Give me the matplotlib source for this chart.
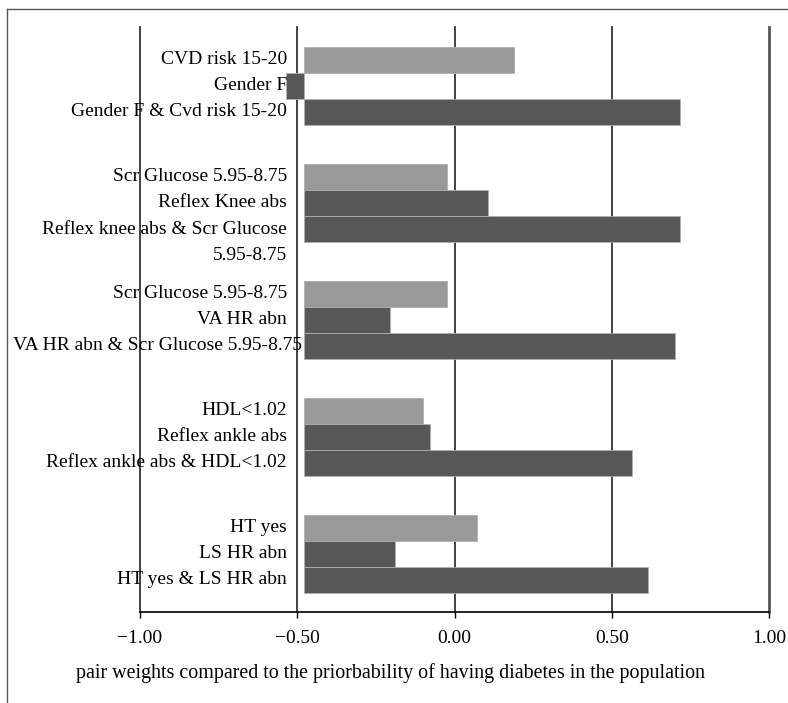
import matplotlib.pyplot as plt
from matplotlib.lines import Line2D

plt.rcParams['font.family'] = ['Liberation Serif', 'DejaVu Serif']

# prior probability line where every bar starts
prior = -0.48

labels = [
    ["CVD risk 15-20", "Gender F", "Gender F & Cvd risk 15-20"],
    ["Scr Glucose 5.95-8.75", "Reflex Knee abs", "Reflex knee abs & Scr Glucose\n5.95-8.75"],
    ["Scr Glucose 5.95-8.75", "VA HR abn", "VA HR abn & Scr Glucose 5.95-8.75"],
    ["HDL<1.02", "Reflex ankle abs", "Reflex ankle abs & HDL<1.02"],
    ["HT yes", "LS HR abn", "HT yes & LS HR abn"],
]
values = [
    [0.19, -0.535, 0.717],
    [-0.024, 0.107, 0.717],
    [-0.024, -0.205, 0.70],
    [-0.10, -0.078, 0.565],
    [0.072, -0.19, 0.615],
]
xticks = [-1.0, -0.5, 0.0, 0.5, 1.0]

light = '#999999'
dark = '#575757'

fig = plt.figure(figsize=(7.88, 7.03), dpi=100)
ax = fig.add_axes([140 / 788, 1 - 612 / 703, 629 / 788, 585 / 703])

for g in range(len(values)):
    for i in range(3):
        y = g * 4.5 + 0.75 + i + 0.5
        v = values[g][i]
        ax.barh(y, v - prior, left=prior, height=1.0,
                color=light if i == 0 else dark,
                edgecolor='#b0b0b0', linewidth=0.6, zorder=3)
        lab = labels[g][i]
        nl = lab.count('\n')
        xr = -0.533
        if len(lab) > 30 and nl == 0:
            xr = -0.485
        ax.text(xr, y + nl * 0.55, lab, ha='right', va='center',
                multialignment='right', fontsize=14, linespacing=1.7,
                zorder=4, clip_on=False)

ax.set_xlim(-1, 1)
ax.set_ylim(22.5, 0)
ax.set_xticks(xticks)
ax.set_xticklabels(["\u22121.00", "\u22120.50", "0.00", "0.50", "1.00"], fontsize=14)
ax.set_yticks([])
ax.tick_params(axis='x', direction='out', length=4, width=1, pad=9, color='black')

for x in xticks:
    ax.axvline(x, color='#333333' if x < 1 else '#555555',
               linewidth=1.3 if x < 1 else 2, zorder=2, clip_on=False)

for s in ['top', 'right', 'left']:
    ax.spines[s].set_visible(False)
ax.spines['bottom'].set_color('black')
ax.spines['bottom'].set_linewidth(1.2)

fig.text(390 / 788, 1 - 673 / 703,
         "pair weights compared to the priorbability of having diabetes in the population",
         ha='center', va='center', fontsize=14.4)

# outer frame (top and left)
fig.add_artist(Line2D([7 / 788, 1], [1 - 9 / 703, 1 - 9 / 703], color='#555555', linewidth=1))
fig.add_artist(Line2D([7 / 788, 7 / 788], [0, 1 - 9 / 703], color='#555555', linewidth=1))

fig.savefig('out.png', dpi=100)
